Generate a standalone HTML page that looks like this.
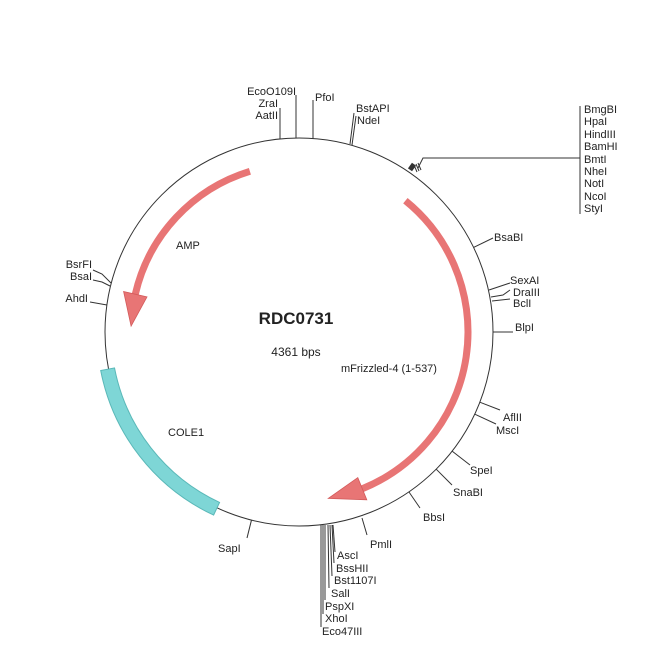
<!DOCTYPE html>
<html><head><meta charset="utf-8"><style>
html,body{margin:0;padding:0;background:#fff;}
svg{display:block;}
text{font-family:"Liberation Sans",Arial,sans-serif;font-size:11px;fill:#222;}
</style></head><body>
<svg width="650" height="650" viewBox="0 0 650 650" xmlns="http://www.w3.org/2000/svg">
<rect width="650" height="650" fill="#fff"/>
<circle cx="299" cy="332" r="194" fill="none" stroke="#333" stroke-width="1"/>

<!-- COLE1 -->
<path d="M100.7,370.5 A202,202 0 0 0 213.6,515.1 L219.6,502.4 A188,188 0 0 1 114.5,367.9 Z" fill="#7ed6d6" stroke="#5ab8b8" stroke-width="1"/>

<!-- AMP -->
<path d="M249.9,171.3 A168,168 0 0 0 135.3,294.2" fill="none" stroke="#e87575" stroke-width="7"/>
<path d="M123.6,291.5 L147.0,296.9 L131.1,326.1 Z" fill="#e87575" stroke="#d35a5a" stroke-width="0.8"/>
<!-- mFrizzled -->
<path d="M405.4,200.7 A169,169 0 0 1 362.3,488.7" fill="none" stroke="#e87575" stroke-width="7"/>
<path d="M366.8,499.8 L357.8,477.6 L328.3,498.4 Z" fill="#e87575" stroke="#d35a5a" stroke-width="0.8"/>

<text x="296" y="324" text-anchor="middle" style="font-size:17px;font-weight:bold">RDC0731</text>
<text x="296" y="356" text-anchor="middle" style="font-size:12px">4361 bps</text>
<text x="341" y="372">mFrizzled-4 (1-537)</text>
<text x="176" y="249">AMP</text>
<text x="168" y="436">COLE1</text>

<g stroke="#333" stroke-width="1" fill="none">
<line x1="280" y1="108" x2="280" y2="139"/>
<line x1="296" y1="95" x2="296" y2="138"/>
<line x1="313" y1="100" x2="313" y2="139"/>
<line x1="354" y1="113" x2="350" y2="144"/>
<line x1="356" y1="116" x2="352" y2="145"/>
<polyline points="418,168 423,158 580,158"/>
<line x1="580" y1="106" x2="580" y2="214"/>
<rect x="410" y="164" width="4" height="6" fill="#333" transform="rotate(35 412 167)"/>
<line x1="414" y1="165" x2="417" y2="172"/>
<line x1="416" y1="164" x2="419" y2="171"/>
<line x1="418" y1="163" x2="421" y2="170"/>
<line x1="473.6" y1="247.4" x2="493" y2="238"/>
<line x1="489" y1="290" x2="510" y2="283"/>
<polyline points="491,297 503,295 510,290"/>
<line x1="492" y1="301" x2="510" y2="299"/>
<line x1="493" y1="332" x2="513" y2="332"/>
<line x1="479.8" y1="402.2" x2="500" y2="410"/>
<line x1="475.1" y1="414.3" x2="496" y2="424"/>
<line x1="452.1" y1="451.1" x2="470" y2="465"/>
<line x1="436.2" y1="469.2" x2="452" y2="485"/>
<line x1="408.9" y1="491.9" x2="420" y2="508"/>
<line x1="362" y1="518" x2="367" y2="535"/>
<line x1="251.5" y1="520" x2="247" y2="538"/>
<line x1="321" y1="525" x2="321" y2="627"/>
<line x1="323" y1="525" x2="323" y2="614"/>
<line x1="325" y1="525" x2="325" y2="600"/>
<line x1="328" y1="525" x2="329" y2="588"/>
<line x1="330" y1="525" x2="332" y2="576"/>
<line x1="332" y1="525" x2="334" y2="563"/>
<line x1="333" y1="525" x2="335" y2="552"/>
<polyline points="93,270 102,274 111,283"/>
<polyline points="93,280 102,282 110,286"/>
<line x1="90" y1="302" x2="107" y2="305"/>
</g>

<g>
<text x="296" y="95" text-anchor="end">EcoO109I</text>
<text x="278" y="107" text-anchor="end">ZraI</text>
<text x="278" y="119" text-anchor="end">AatII</text>
<text x="315" y="101">PfoI</text>
<text x="356" y="112">BstAPI</text>
<text x="357" y="124">NdeI</text>
<text x="584" y="113">BmgBI</text>
<text x="584" y="125">HpaI</text>
<text x="584" y="138">HindIII</text>
<text x="584" y="150">BamHI</text>
<text x="584" y="163">BmtI</text>
<text x="584" y="175">NheI</text>
<text x="584" y="187">NotI</text>
<text x="584" y="200">NcoI</text>
<text x="584" y="212">StyI</text>
<text x="494" y="241">BsaBI</text>
<text x="510" y="284">SexAI</text>
<text x="513" y="296">DraIII</text>
<text x="513" y="307">BclI</text>
<text x="515" y="331">BlpI</text>
<text x="503" y="421">AflII</text>
<text x="496" y="434">MscI</text>
<text x="470" y="474">SpeI</text>
<text x="453" y="496">SnaBI</text>
<text x="423" y="521">BbsI</text>
<text x="370" y="548">PmlI</text>
<text x="218" y="552">SapI</text>
<text x="337" y="559">AscI</text>
<text x="336" y="572">BssHII</text>
<text x="334" y="584">Bst1107I</text>
<text x="331" y="597">SalI</text>
<text x="325" y="610">PspXI</text>
<text x="325" y="622">XhoI</text>
<text x="322" y="635">Eco47III</text>
<text x="92" y="268" text-anchor="end">BsrFI</text>
<text x="92" y="280" text-anchor="end">BsaI</text>
<text x="88" y="302" text-anchor="end">AhdI</text>
</g>
</svg>
</body></html>
